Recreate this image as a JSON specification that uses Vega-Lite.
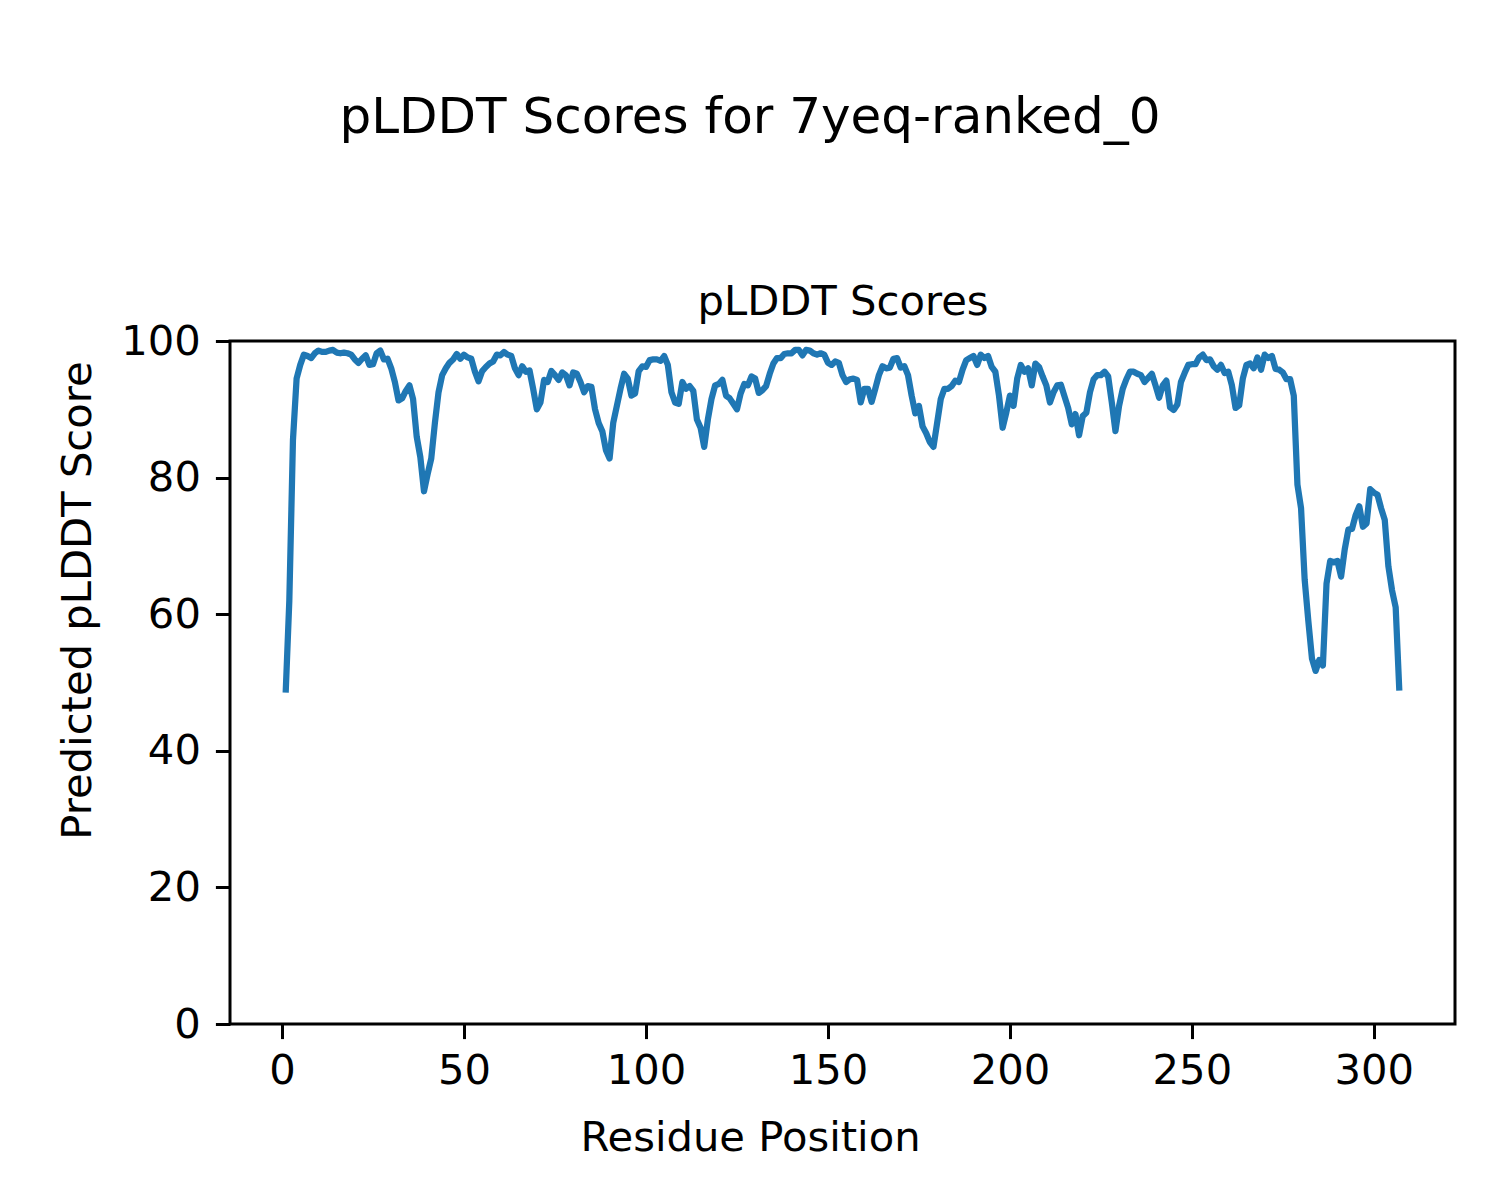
{
  "$schema": "https://vega.github.io/schema/vega-lite/v6.json",
  "width": 1225,
  "height": 683,
  "autosize": {"type": "none"},
  "padding": {"left": 230, "top": 341, "right": 45, "bottom": 176},
  "background": "white",
  "config": {
    "font": "DejaVu Sans",
    "view": {"stroke": "black", "strokeWidth": 3},
    "axis": {"grid": false}
  },
  "title": {
    "text": "pLDDT Scores for 7yeq-ranked_0",
    "anchor": "middle",
    "frame": "group",
    "dx": -92.5,
    "offset": 98,
    "baseline": "alphabetic",
    "fontSize": 50,
    "fontWeight": "normal",
    "font": "DejaVu Sans",
    "color": "black"
  },
  "data": {"values": [
    {"residue":1,"plddt":48.5},{"residue":2,"plddt":62},{"residue":3,"plddt":85.5},{"residue":4,"plddt":94.5},{"residue":5,"plddt":96.5},
    {"residue":6,"plddt":98},{"residue":7,"plddt":97.8},{"residue":8,"plddt":97.5},{"residue":9,"plddt":98.2},{"residue":10,"plddt":98.6},
    {"residue":11,"plddt":98.4},{"residue":12,"plddt":98.4},{"residue":13,"plddt":98.6},{"residue":14,"plddt":98.7},{"residue":15,"plddt":98.3},
    {"residue":16,"plddt":98.2},{"residue":17,"plddt":98.3},{"residue":18,"plddt":98.2},{"residue":19,"plddt":98.0},{"residue":20,"plddt":97.3},
    {"residue":21,"plddt":96.8},{"residue":22,"plddt":97.4},{"residue":23,"plddt":97.9},{"residue":24,"plddt":96.5},{"residue":25,"plddt":96.6},
    {"residue":26,"plddt":98.2},{"residue":27,"plddt":98.6},{"residue":28,"plddt":97.3},{"residue":29,"plddt":97.4},{"residue":30,"plddt":96},
    {"residue":31,"plddt":94},{"residue":32,"plddt":91.3},{"residue":33,"plddt":91.6},{"residue":34,"plddt":92.7},{"residue":35,"plddt":93.5},
    {"residue":36,"plddt":91.5},{"residue":37,"plddt":86},{"residue":38,"plddt":83},{"residue":39,"plddt":78},{"residue":40,"plddt":80.5},
    {"residue":41,"plddt":82.8},{"residue":42,"plddt":88},{"residue":43,"plddt":92.5},{"residue":44,"plddt":95},{"residue":45,"plddt":96},
    {"residue":46,"plddt":96.8},{"residue":47,"plddt":97.3},{"residue":48,"plddt":98.1},{"residue":49,"plddt":97.4},{"residue":50,"plddt":98},
    {"residue":51,"plddt":97.6},{"residue":52,"plddt":97.4},{"residue":53,"plddt":95.5},{"residue":54,"plddt":94.1},{"residue":55,"plddt":95.6},
    {"residue":56,"plddt":96.2},{"residue":57,"plddt":96.7},{"residue":58,"plddt":97},{"residue":59,"plddt":98},{"residue":60,"plddt":97.9},
    {"residue":61,"plddt":98.4},{"residue":62,"plddt":98},{"residue":63,"plddt":97.8},{"residue":64,"plddt":96},{"residue":65,"plddt":95},
    {"residue":66,"plddt":96.3},{"residue":67,"plddt":95.5},{"residue":68,"plddt":95.7},{"residue":69,"plddt":93},{"residue":70,"plddt":90},
    {"residue":71,"plddt":91},{"residue":72,"plddt":94.3},{"residue":73,"plddt":94},{"residue":74,"plddt":95.6},{"residue":75,"plddt":95},
    {"residue":76,"plddt":94.3},{"residue":77,"plddt":95.4},{"residue":78,"plddt":95},{"residue":79,"plddt":93.5},{"residue":80,"plddt":95.4},
    {"residue":81,"plddt":95.2},{"residue":82,"plddt":94},{"residue":83,"plddt":92.5},{"residue":84,"plddt":93.4},{"residue":85,"plddt":93.3},
    {"residue":86,"plddt":90},{"residue":87,"plddt":88},{"residue":88,"plddt":86.8},{"residue":89,"plddt":84},{"residue":90,"plddt":82.8},
    {"residue":91,"plddt":88},{"residue":92,"plddt":90.5},{"residue":93,"plddt":93},{"residue":94,"plddt":95.2},{"residue":95,"plddt":94.5},
    {"residue":96,"plddt":92},{"residue":97,"plddt":92.3},{"residue":98,"plddt":95.6},{"residue":99,"plddt":96.3},{"residue":100,"plddt":96.2},
    {"residue":101,"plddt":97.2},{"residue":102,"plddt":97.3},{"residue":103,"plddt":97.3},{"residue":104,"plddt":97.1},{"residue":105,"plddt":97.8},
    {"residue":106,"plddt":96.5},{"residue":107,"plddt":92.5},{"residue":108,"plddt":91},{"residue":109,"plddt":90.8},{"residue":110,"plddt":94},
    {"residue":111,"plddt":93},{"residue":112,"plddt":93.4},{"residue":113,"plddt":92.7},{"residue":114,"plddt":88.5},{"residue":115,"plddt":87.3},
    {"residue":116,"plddt":84.5},{"residue":117,"plddt":88.5},{"residue":118,"plddt":91.5},{"residue":119,"plddt":93.5},{"residue":120,"plddt":93.7},
    {"residue":121,"plddt":94.3},{"residue":122,"plddt":92},{"residue":123,"plddt":91.6},{"residue":124,"plddt":90.8},{"residue":125,"plddt":90},
    {"residue":126,"plddt":92.3},{"residue":127,"plddt":93.7},{"residue":128,"plddt":93.5},{"residue":129,"plddt":94.8},{"residue":130,"plddt":94.5},
    {"residue":131,"plddt":92.4},{"residue":132,"plddt":92.8},{"residue":133,"plddt":93.4},{"residue":134,"plddt":95.2},{"residue":135,"plddt":96.7},
    {"residue":136,"plddt":97.5},{"residue":137,"plddt":97.5},{"residue":138,"plddt":98.1},{"residue":139,"plddt":98.2},{"residue":140,"plddt":98.2},
    {"residue":141,"plddt":98.7},{"residue":142,"plddt":98.7},{"residue":143,"plddt":97.9},{"residue":144,"plddt":98.7},{"residue":145,"plddt":98.6},
    {"residue":146,"plddt":98.2},{"residue":147,"plddt":98.0},{"residue":148,"plddt":98.2},{"residue":149,"plddt":98},{"residue":150,"plddt":96.8},
    {"residue":151,"plddt":96.5},{"residue":152,"plddt":97},{"residue":153,"plddt":96.8},{"residue":154,"plddt":95},{"residue":155,"plddt":94},
    {"residue":156,"plddt":94.4},{"residue":157,"plddt":94.5},{"residue":158,"plddt":94.3},{"residue":159,"plddt":91},{"residue":160,"plddt":93},
    {"residue":161,"plddt":93},{"residue":162,"plddt":91.1},{"residue":163,"plddt":93},{"residue":164,"plddt":95},{"residue":165,"plddt":96.3},
    {"residue":166,"plddt":96},{"residue":167,"plddt":96.1},{"residue":168,"plddt":97.4},{"residue":169,"plddt":97.5},{"residue":170,"plddt":96.1},
    {"residue":171,"plddt":96.3},{"residue":172,"plddt":95},{"residue":173,"plddt":92},{"residue":174,"plddt":89.4},{"residue":175,"plddt":90.5},
    {"residue":176,"plddt":87.5},{"residue":177,"plddt":86.5},{"residue":178,"plddt":85.2},{"residue":179,"plddt":84.5},{"residue":180,"plddt":88},
    {"residue":181,"plddt":91.5},{"residue":182,"plddt":93},{"residue":183,"plddt":93},{"residue":184,"plddt":93.4},{"residue":185,"plddt":94.2},
    {"residue":186,"plddt":94},{"residue":187,"plddt":95.8},{"residue":188,"plddt":97.2},{"residue":189,"plddt":97.5},{"residue":190,"plddt":97.8},
    {"residue":191,"plddt":96.5},{"residue":192,"plddt":98},{"residue":193,"plddt":97.5},{"residue":194,"plddt":97.8},{"residue":195,"plddt":96.2},
    {"residue":196,"plddt":95.5},{"residue":197,"plddt":92},{"residue":198,"plddt":87.3},{"residue":199,"plddt":89.5},{"residue":200,"plddt":92},
    {"residue":201,"plddt":90.5},{"residue":202,"plddt":94.5},{"residue":203,"plddt":96.5},{"residue":204,"plddt":95.5},{"residue":205,"plddt":96},
    {"residue":206,"plddt":93.5},{"residue":207,"plddt":96.7},{"residue":208,"plddt":96.2},{"residue":209,"plddt":94.8},{"residue":210,"plddt":93.5},
    {"residue":211,"plddt":91},{"residue":212,"plddt":92.5},{"residue":213,"plddt":93.5},{"residue":214,"plddt":93.6},{"residue":215,"plddt":91.9},
    {"residue":216,"plddt":90.2},{"residue":217,"plddt":87.8},{"residue":218,"plddt":89.3},{"residue":219,"plddt":86.2},{"residue":220,"plddt":89},
    {"residue":221,"plddt":89.5},{"residue":222,"plddt":92.5},{"residue":223,"plddt":94.4},{"residue":224,"plddt":95},{"residue":225,"plddt":95},
    {"residue":226,"plddt":95.5},{"residue":227,"plddt":94.8},{"residue":228,"plddt":91},{"residue":229,"plddt":86.8},{"residue":230,"plddt":90.5},
    {"residue":231,"plddt":93},{"residue":232,"plddt":94.4},{"residue":233,"plddt":95.5},{"residue":234,"plddt":95.5},{"residue":235,"plddt":95.2},
    {"residue":236,"plddt":95},{"residue":237,"plddt":94},{"residue":238,"plddt":94.6},{"residue":239,"plddt":95.2},{"residue":240,"plddt":93.5},
    {"residue":241,"plddt":91.7},{"residue":242,"plddt":93.5},{"residue":243,"plddt":94.2},{"residue":244,"plddt":90.3},{"residue":245,"plddt":89.9},
    {"residue":246,"plddt":90.7},{"residue":247,"plddt":94},{"residue":248,"plddt":95.3},{"residue":249,"plddt":96.5},{"residue":250,"plddt":96.6},
    {"residue":251,"plddt":96.6},{"residue":252,"plddt":97.6},{"residue":253,"plddt":98},{"residue":254,"plddt":97.2},{"residue":255,"plddt":97.3},
    {"residue":256,"plddt":96.3},{"residue":257,"plddt":95.8},{"residue":258,"plddt":96.5},{"residue":259,"plddt":95.3},{"residue":260,"plddt":95.5},
    {"residue":261,"plddt":93.5},{"residue":262,"plddt":90.2},{"residue":263,"plddt":90.6},{"residue":264,"plddt":94.5},{"residue":265,"plddt":96.5},
    {"residue":266,"plddt":96.7},{"residue":267,"plddt":96},{"residue":268,"plddt":97.6},{"residue":269,"plddt":95.8},{"residue":270,"plddt":98},
    {"residue":271,"plddt":97.5},{"residue":272,"plddt":97.8},{"residue":273,"plddt":95.9},{"residue":274,"plddt":95.8},{"residue":275,"plddt":95.4},
    {"residue":276,"plddt":94.4},{"residue":277,"plddt":94.4},{"residue":278,"plddt":92},{"residue":279,"plddt":79},{"residue":280,"plddt":75.5},
    {"residue":281,"plddt":65},{"residue":282,"plddt":59},{"residue":283,"plddt":53.5},{"residue":284,"plddt":51.7},{"residue":285,"plddt":53.3},
    {"residue":286,"plddt":52.5},{"residue":287,"plddt":64.5},{"residue":288,"plddt":67.8},{"residue":289,"plddt":67.6},{"residue":290,"plddt":67.8},
    {"residue":291,"plddt":65.5},{"residue":292,"plddt":69.5},{"residue":293,"plddt":72.4},{"residue":294,"plddt":72.5},{"residue":295,"plddt":74.5},
    {"residue":296,"plddt":75.8},{"residue":297,"plddt":72.8},{"residue":298,"plddt":73.3},{"residue":299,"plddt":78.3},{"residue":300,"plddt":77.8},
    {"residue":301,"plddt":77.5},{"residue":302,"plddt":75.5},{"residue":303,"plddt":73.8},{"residue":304,"plddt":67},{"residue":305,"plddt":63.5},
    {"residue":306,"plddt":61},{"residue":307,"plddt":48.8}
  ]},
  "layer": [
    {
      "mark": {"type": "line", "color": "#1f77b4", "strokeWidth": 6.25, "strokeCap": "butt", "strokeJoin": "round"},
      "encoding": {
        "x": {
          "field": "residue", "type": "quantitative",
          "scale": {"domain": [-14.3, 322.3], "nice": false, "zero": false},
          "axis": {
            "orient": "bottom",
            "values": [0, 50, 100, 150, 200, 250, 300],
            "title": "Residue Position",
            "titleFont": "DejaVu Sans", "titleFontSize": 41.7, "titleFontWeight": "normal", "titleColor": "black",
            "titleX": 520, "titleY": 126, "titleAlign": "center", "titleBaseline": "alphabetic",
            "labelFont": "DejaVu Sans", "labelFontSize": 41.7, "labelColor": "black", "labelPadding": 12,
            "labelFlush": false, "labelOverlap": false,
            "tickSize": 14.6, "tickWidth": 3, "tickColor": "black",
            "domain": false, "grid": false
          }
        },
        "y": {
          "field": "plddt", "type": "quantitative",
          "scale": {"domain": [0, 100], "nice": false},
          "axis": {
            "orient": "left",
            "values": [0, 20, 40, 60, 80, 100],
            "title": "Predicted pLDDT Score",
            "titleFont": "DejaVu Sans", "titleFontSize": 41.7, "titleFontWeight": "normal", "titleColor": "black",
            "titleX": -140, "titleY": 259, "titleAlign": "center", "titleBaseline": "alphabetic", "titleAngle": -90,
            "labelFont": "DejaVu Sans", "labelFontSize": 41.7, "labelColor": "black", "labelPadding": 15,
            "labelFlush": false, "labelOverlap": false,
            "tickSize": 14.6, "tickWidth": 3, "tickColor": "black",
            "domain": false, "grid": false
          }
        }
      }
    },
    {
      "mark": {"type": "line", "opacity": 0},
      "encoding": {
        "x": {
          "field": "residue", "type": "quantitative",
          "axis": {
            "orient": "top",
            "title": "pLDDT Scores",
            "titleFont": "DejaVu Sans", "titleFontSize": 41.7, "titleFontWeight": "normal", "titleColor": "black",
            "titleX": 612.5, "titleY": -27, "titleAlign": "center", "titleBaseline": "alphabetic",
            "labels": false, "ticks": false, "domain": false, "grid": false
          }
        },
        "y": {"field": "plddt", "type": "quantitative", "axis": null}
      }
    }
  ],
  "resolve": {"axis": {"x": "independent", "y": "independent"}}
}
